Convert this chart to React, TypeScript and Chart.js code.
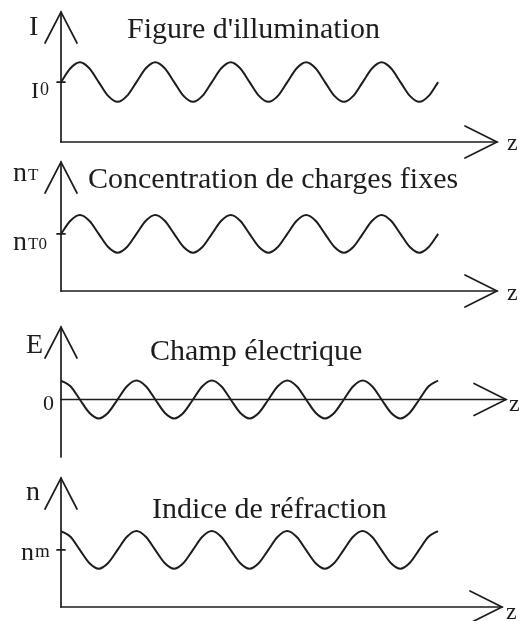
import React, { useEffect, useRef } from "react";
import { Chart, registerables } from "chart.js";

Chart.register(...registerables);

// ---- data ----
const Z_SAMPLES = [
  0, 0.125, 0.25, 0.375, 0.5, 0.625, 0.75, 0.875,
  1, 1.125, 1.25, 1.375, 1.5, 1.625, 1.75, 1.875,
  2, 2.125, 2.25, 2.375, 2.5, 2.625, 2.75, 2.875,
  3, 3.125, 3.25, 3.375, 3.5, 3.625, 3.75, 3.875,
  4, 4.125, 4.25, 4.375, 4.5, 4.625, 4.75, 4.875,
  5,
];

const ILLUMINATION = [
  1, 1.23, 1.33, 1.23, 1, 0.77, 0.67, 0.77,
  1, 1.23, 1.33, 1.23, 1, 0.77, 0.67, 0.77,
  1, 1.23, 1.33, 1.23, 1, 0.77, 0.67, 0.77,
  1, 1.23, 1.33, 1.23, 1, 0.77, 0.67, 0.77,
  1, 1.23, 1.33, 1.23, 1, 0.77, 0.67, 0.77,
  1,
];

const FIXED_CHARGES = [
  1, 1.23, 1.33, 1.23, 1, 0.77, 0.67, 0.77,
  1, 1.23, 1.33, 1.23, 1, 0.77, 0.67, 0.77,
  1, 1.23, 1.33, 1.23, 1, 0.77, 0.67, 0.77,
  1, 1.23, 1.33, 1.23, 1, 0.77, 0.67, 0.77,
  1, 1.23, 1.33, 1.23, 1, 0.77, 0.67, 0.77,
  1,
];

const ELECTRIC_FIELD = [
  0.33, 0.23, 0, -0.23, -0.33, -0.23, 0, 0.23,
  0.33, 0.23, 0, -0.23, -0.33, -0.23, 0, 0.23,
  0.33, 0.23, 0, -0.23, -0.33, -0.23, 0, 0.23,
  0.33, 0.23, 0, -0.23, -0.33, -0.23, 0, 0.23,
  0.33, 0.23, 0, -0.23, -0.33, -0.23, 0, 0.23,
  0.33,
];

const REFRACTIVE_INDEX = [
  1.33, 1.23, 1, 0.77, 0.67, 0.77, 1, 1.23,
  1.33, 1.23, 1, 0.77, 0.67, 0.77, 1, 1.23,
  1.33, 1.23, 1, 0.77, 0.67, 0.77, 1, 1.23,
  1.33, 1.23, 1, 0.77, 0.67, 0.77, 1, 1.23,
  1.33, 1.23, 1, 0.77, 0.67, 0.77, 1, 1.23,
  1.33,
];

const SERIES = [ILLUMINATION, FIXED_CHARGES, ELECTRIC_FIELD, REFRACTIVE_INDEX];

const TITLES = [
  "Figure d'illumination",
  "Concentration de charges fixes",
  "Champ électrique",
  "Indice de réfraction",
];
const AXIS_NAMES = ["I", "n", "E", "n"];
const AXIS_NAME_SUBS = ["", "T", "", ""];
const LEVEL_NAMES = ["I", "n", "0", "n"];
const LEVEL_SUBS = ["0", "T0", "", "m"];
const LEVEL_VALUES = [1, 1, 0, 1];
const LEVEL_TICKS = [true, true, false, true];
const Z_LABEL = "z";

// scale ranges
const Z_MAX = [5.78, 5.78, 5.9, 5.85];
const Y_MIN = [0, 0, -1.0, 0];
const Y_MAX = [2.17, 2.26, 1.26, 2.26];

// ---- layout / style ----
const W = 525;
const H = 621;
const INK = "#1d1d1b";
const FONT = '"Liberation Serif", "Times New Roman", Times, serif';

const LAYOUT = [
  {
    area: { left: 61, right: 497, top: 12, bottom: 142 },
    name: { x: 29, y: 35, size: 28, sub: 17, rise: 4 },
    title: { x: 127, y: 38, size: 30 },
    level: { x: 31, y: 98, size: 24, sub: 18, rise: 3 },
    z: { x: 507, y: 150, size: 24 },
  },
  {
    area: { left: 61, right: 497, top: 162, bottom: 291 },
    name: { x: 13, y: 181, size: 28, sub: 17, rise: 1 },
    title: { x: 88, y: 188, size: 30 },
    level: { x: 13, y: 250, size: 28, sub: 17, rise: 1 },
    z: { x: 507, y: 300, size: 24 },
  },
  {
    area: { left: 61, right: 506, top: 327, bottom: 457 },
    name: { x: 26, y: 353, size: 28, sub: 17, rise: 4 },
    title: { x: 150, y: 360, size: 30 },
    level: { x: 43, y: 410, size: 22, sub: 17, rise: 3 },
    z: { x: 509, y: 411, size: 24 },
  },
  {
    area: { left: 61, right: 502, top: 478, bottom: 607 },
    name: { x: 26, y: 500, size: 28, sub: 17, rise: 4 },
    title: { x: 152, y: 518, size: 30 },
    level: { x: 21, y: 560, size: 26, sub: 19, rise: 3 },
    z: { x: 506, y: 619, size: 24 },
  },
];

function drawLabel(ctx: CanvasRenderingContext2D, main: string, sub: string, pos: any) {
  ctx.font = `${pos.size}px ${FONT}`;
  ctx.fillText(main, pos.x, pos.y);
  if (sub) {
    const w = ctx.measureText(main).width;
    ctx.font = `${pos.sub}px ${FONT}`;
    ctx.fillText(sub, pos.x + w + 1, pos.y - pos.rise);
  }
}

function makePlugin(i: number) {
  return {
    id: "axesAndLabels" + i,
    afterDraw(chart: any) {
      const ctx: CanvasRenderingContext2D = chart.ctx;
      const { left, right, top, bottom } = chart.chartArea;
      const ys = chart.scales.y;
      const axisY = ys.getPixelForValue(Math.max(ys.min, 0));
      const lay = LAYOUT[i];
      ctx.save();
      ctx.strokeStyle = INK;
      ctx.fillStyle = INK;
      ctx.lineWidth = 1.7;
      ctx.lineCap = "round";
      ctx.lineJoin = "miter";
      // y axis
      ctx.beginPath();
      ctx.moveTo(left, bottom);
      ctx.lineTo(left, top);
      ctx.stroke();
      // y arrow head
      ctx.beginPath();
      ctx.moveTo(left - 16, top + 31);
      ctx.lineTo(left, top);
      ctx.lineTo(left + 16, top + 31);
      ctx.stroke();
      // x axis
      ctx.beginPath();
      ctx.moveTo(left, axisY);
      ctx.lineTo(right, axisY);
      ctx.stroke();
      // x arrow head
      ctx.beginPath();
      ctx.moveTo(right - 32, axisY - 16);
      ctx.lineTo(right, axisY);
      ctx.lineTo(right - 32, axisY + 16);
      ctx.stroke();
      // level tick
      if (LEVEL_TICKS[i]) {
        const ly = ys.getPixelForValue(LEVEL_VALUES[i]);
        ctx.beginPath();
        ctx.moveTo(left - 4, ly);
        ctx.lineTo(left + 4, ly);
        ctx.stroke();
      }
      // texts
      ctx.textBaseline = "alphabetic";
      ctx.textAlign = "left";
      drawLabel(ctx, AXIS_NAMES[i], AXIS_NAME_SUBS[i], lay.name);
      drawLabel(ctx, LEVEL_NAMES[i], LEVEL_SUBS[i], lay.level);
      ctx.font = `${lay.title.size}px ${FONT}`;
      ctx.fillText(TITLES[i], lay.title.x, lay.title.y);
      ctx.font = `${lay.z.size}px ${FONT}`;
      ctx.fillText(Z_LABEL, lay.z.x, lay.z.y);
      ctx.restore();
    },
  };
}

function Panel({ index }: { index: number }) {
  const ref = useRef<HTMLCanvasElement | null>(null);
  useEffect(() => {
    if (!ref.current) return;
    const a = LAYOUT[index].area;
    const values = SERIES[index];
    const points = Z_SAMPLES.map((z, k) => ({ x: z, y: values[k] }));
    const chart = new Chart(ref.current, {
      type: "line",
      data: {
        datasets: [
          {
            data: points,
            borderColor: INK,
            borderWidth: 2,
            pointRadius: 0,
            fill: false,
            cubicInterpolationMode: "monotone",
          } as any,
        ],
      },
      options: {
        responsive: false,
        maintainAspectRatio: false,
        animation: false,
        devicePixelRatio: 1,
        events: [],
        layout: {
          padding: { left: a.left, right: W - a.right, top: a.top, bottom: H - a.bottom },
        },
        plugins: {
          legend: { display: false },
          tooltip: { enabled: false },
          title: { display: false },
        },
        scales: {
          x: { type: "linear", min: 0, max: Z_MAX[index], display: false },
          y: { type: "linear", min: Y_MIN[index], max: Y_MAX[index], display: false },
        },
      },
      plugins: [makePlugin(index)],
    });
    return () => chart.destroy();
  }, [index]);
  return (
    <canvas
      ref={ref}
      width={W}
      height={H}
      style={{ position: "absolute", left: 0, top: 0, width: W, height: H }}
    />
  );
}

export default function App() {
  return (
    <div style={{ position: "absolute", left: 0, top: 0, width: W, height: H, background: "#fff" }}>
      {[0, 1, 2, 3].map((i) => (
        <Panel key={i} index={i} />
      ))}
    </div>
  );
}
